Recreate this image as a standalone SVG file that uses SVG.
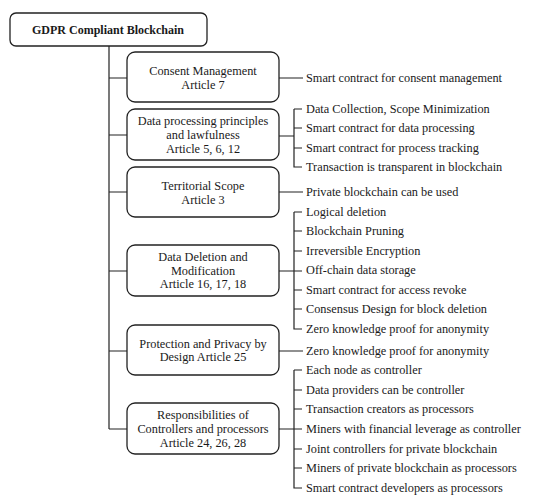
<svg xmlns="http://www.w3.org/2000/svg" width="550" height="502" viewBox="0 0 550 502">
<style>
.box{fill:#fff;stroke:#222;stroke-width:1.3}
.ln{fill:none;stroke:#222;stroke-width:1.2}
text{font-family:"Liberation Serif","DejaVu Serif",serif;font-size:12.3px;fill:#1a1a1a}
.c{text-anchor:middle}
.b{font-weight:bold;font-size:12px}
</style>
<rect width="550" height="502" fill="#fff"/>
<g id="connectors">
<path class="ln" d="M109,46 V429 M109,78 H127 M109,135 H127 M109,192 H127 M109,271 H127 M109,351 H127 M109,429 H127"/>
<path class="ln" d="M279,78 H303 M279,192 H303 M279,351 H303"/>
<path class="ln" d="M279,136 H294 M294,109 V167 H302 M294,109 H302 M294,128 H302 M294,148 H302"/>
<path class="ln" d="M279,271 H302 M294,212 V329 H302 M294,212 H302 M294,231 H302 M294,251 H302 M294,290 H302 M294,309 H302"/>
<path class="ln" d="M279,429 H302 M294,370 V488 H302 M294,370 H302 M294,390 H302 M294,409 H302 M294,449 H302 M294,468 H302"/>
</g>
<g id="root"><rect class="box" x="10" y="13" width="197" height="33" rx="6"/><text class="c b" x="108" y="34">GDPR Compliant Blockchain</text></g>
<g id="consent"><rect class="box" x="127" y="52" width="152" height="50" rx="8"/><text class="c" x="203" y="75">Consent Management</text><text class="c" x="203" y="89">Article 7</text></g>
<g id="processing"><rect class="box" x="127" y="109" width="152" height="51" rx="8"/><text class="c" x="203" y="125">Data processing principles</text><text class="c" x="203" y="139">and lawfulness</text><text class="c" x="203" y="153">Article 5, 6, 12</text></g>
<g id="territorial"><rect class="box" x="127" y="167" width="152" height="50" rx="8"/><text class="c" x="203" y="190">Territorial Scope</text><text class="c" x="203" y="204">Article 3</text></g>
<g id="deletion"><rect class="box" x="127" y="245" width="152" height="51" rx="8"/><text class="c" x="203" y="261">Data Deletion and</text><text class="c" x="203" y="275">Modification</text><text class="c" x="203" y="288">Article 16, 17, 18</text></g>
<g id="protection"><rect class="box" x="127" y="325" width="152" height="50" rx="8"/><text class="c" x="203" y="348">Protection and Privacy by</text><text class="c" x="203" y="361">Design Article 25</text></g>
<g id="responsibilities"><rect class="box" x="127" y="403" width="152" height="51" rx="8"/><text class="c" x="203" y="419">Responsibilities of</text><text class="c" x="203" y="433">Controllers and processors</text><text class="c" x="203" y="447">Article 24, 26, 28</text></g>
<g id="items">
<text x="306" y="82">Smart contract for consent management</text>
<text x="306" y="113">Data Collection, Scope Minimization</text>
<text x="306" y="132">Smart contract for data processing</text>
<text x="306" y="152">Smart contract for process tracking</text>
<text x="306" y="171">Transaction is transparent in blockchain</text>
<text x="306" y="196">Private blockchain can be used</text>
<text x="306" y="216">Logical deletion</text>
<text x="306" y="235">Blockchain Pruning</text>
<text x="306" y="255">Irreversible Encryption</text>
<text x="306" y="274">Off-chain data storage</text>
<text x="306" y="294">Smart contract for access revoke</text>
<text x="306" y="313">Consensus Design for block deletion</text>
<text x="306" y="333">Zero knowledge proof for anonymity</text>
<text x="306" y="355">Zero knowledge proof for anonymity</text>
<text x="306" y="374">Each node as controller</text>
<text x="306" y="394">Data providers can be controller</text>
<text x="306" y="413">Transaction creators as processors</text>
<text x="306" y="433">Miners with financial leverage as controller</text>
<text x="306" y="453">Joint controllers for private blockchain</text>
<text x="306" y="472">Miners of private blockchain as processors</text>
<text x="306" y="492">Smart contract developers as processors</text>
</g>
</svg>
